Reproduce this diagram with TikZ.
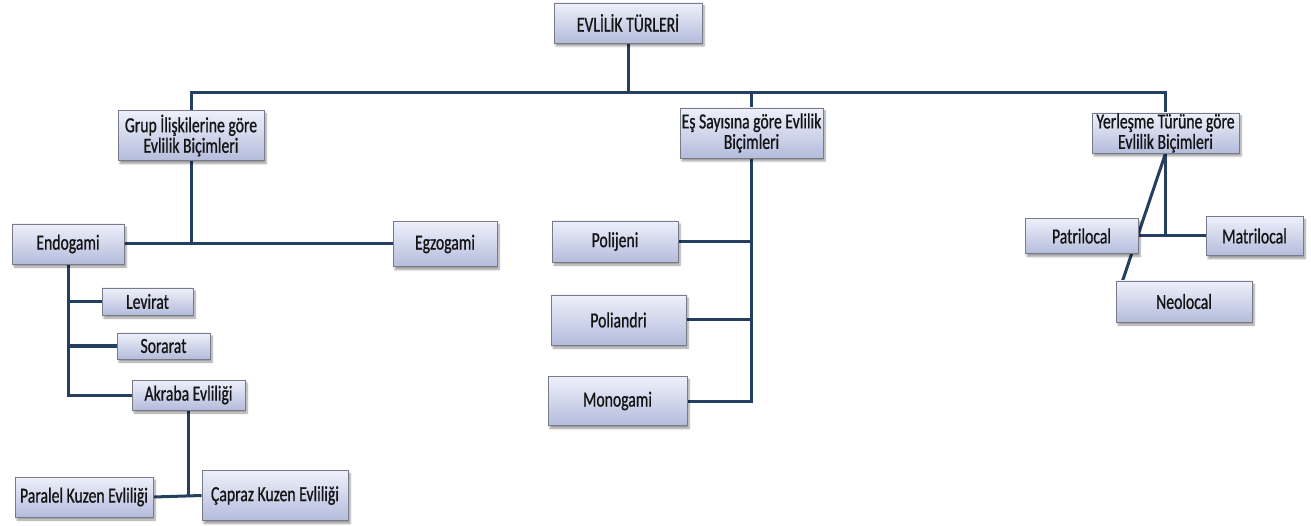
\documentclass[tikz,border=0pt]{standalone}
\usepackage{fontspec}
\setmainfont[FakeStretch=0.73,FakeBold=0.8]{Carlito}
\usetikzlibrary{shadows.blur,backgrounds}
\definecolor{linec}{RGB}{36,63,96}
\definecolor{boxtop}{RGB}{238,240,250}
\definecolor{boxbot}{RGB}{180,188,220}
\definecolor{boxdraw}{RGB}{120,122,135}
\definecolor{txt}{RGB}{20,20,20}
\tikzset{
  box/.style={draw=boxdraw, line width=0.8pt, top color=boxtop, bottom color=boxbot,
    inner sep=0pt, align=center, text=txt,
    font=\fontsize{21.5}{20.5}\selectfont,
    blur shadow={shadow xshift=2pt, shadow yshift=-3pt, shadow blur steps=6, shadow opacity=40}},
  conn/.style={draw=linec, line width=3pt}
}
\begin{document}
\begin{tikzpicture}[x=1pt,y=-1pt]
\useasboundingbox (0,0) rectangle (1311,526);
\coordinate (busy) at (0,93);
% boxes
\node[box, minimum width=148, minimum height=40] (top) at (628,23) {EVLİLİK TÜRLERİ};
\node[box, minimum width=146, minimum height=50] (grup) at (191,135.5) {Grup İlişkilerine göre\\Evlilik Biçimleri};
\node[box, minimum width=143, minimum height=50] (es) at (751.5,133) {Eş Sayısına göre Evlilik\\Biçimleri};
\node[box, minimum width=147, minimum height=40] (yer) at (1165.5,133) {Yerleşme Türüne göre\\Evlilik Biçimleri};
\node[box, minimum width=112, minimum height=40] (endo) at (68,244) {Endogami};
\node[box, minimum width=104, minimum height=45] (egzo) at (445,244) {Egzogami};
\node[box, minimum width=91, minimum height=27] (lev) at (147.5,301.5) {Levirat};
\node[box, minimum width=93, minimum height=26] (sor) at (163.5,346) {Sorarat};
\node[box, minimum width=113, minimum height=30] (akr) at (188.5,395) {Akraba Evliliği};
\node[box, minimum width=138, minimum height=40] (par) at (84,497) {Paralel Kuzen Evliliği};
\node[box, minimum width=146, minimum height=50] (cap) at (275,495.5) {Çapraz Kuzen Evliliği};
\node[box, minimum width=126, minimum height=41] (polj) at (615,241.5) {Polijeni};
\node[box, minimum width=135, minimum height=50] (pola) at (618.5,320) {Poliandri};
\node[box, minimum width=139, minimum height=49] (mono) at (617.5,401) {Monogami};
\node[box, minimum width=113, minimum height=35] (patr) at (1081.5,236) {Patrilocal};
\node[box, minimum width=97, minimum height=39] (matr) at (1254.5,236) {Matrilocal};
\node[box, minimum width=136, minimum height=41] (neo) at (1184,301.5) {Neolocal};
% connectors
\begin{scope}[on background layer]
\draw[conn] (top.south) -- (top.south |- busy);
\draw[conn] (grup.north) -- (grup.north |- busy) -- (yer.north |- busy) -- (yer.north);
\draw[conn] (es.north) -- (es.north |- busy);
\draw[conn] (grup.south) -- (grup.south |- egzo.west);
\draw[conn] (endo.east) -- (egzo.west);
\draw[conn] (endo.south) |- (akr.west);
\draw[conn] (lev.west) -- (lev.west -| endo.south);
\draw[conn] (sor.west) -- (sor.west -| endo.south);
\draw[conn] (akr.south) -- (akr.south |- par.east);
\draw[conn] (par.east) -- (cap.west);
\draw[conn] (es.south) |- (mono.east);
\draw[conn] (polj.east) -- (polj.east -| es.south);
\draw[conn] (pola.east) -- (pola.east -| es.south);
\draw[conn] (yer.south) -- ([xshift=7pt]neo.north west);
\draw[conn] (yer.south) -- (yer.south |- matr.west);
\draw[conn] (patr.east) -- (matr.west);
\end{scope}
\end{tikzpicture}
\end{document}
